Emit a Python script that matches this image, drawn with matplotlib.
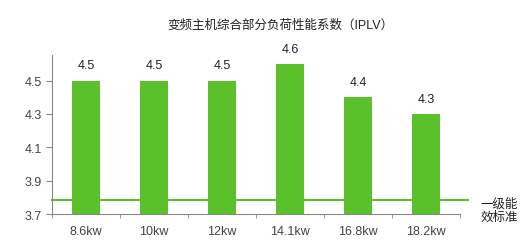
import matplotlib.pyplot as plt

plt.rcParams['font.family'] = ['Liberation Sans', 'Noto Sans CJK SC']

categories = ["8.6kw", "10kw", "12kw", "14.1kw", "16.8kw", "18.2kw"]
iplv = [4.5, 4.5, 4.5, 4.6, 4.4, 4.3]
standard = 3.785
yticks = [3.7, 3.9, 4.1, 4.3, 4.5]

green = "#5ac12a"
grey = "#444444"

fig = plt.figure(figsize=(5.2, 2.51), dpi=100)
ax = fig.add_axes([0.1, 0.1434, 0.7846, 0.6335])

x = range(len(categories))
ax.bar(x, iplv, width=0.4, color=green, zorder=2)
for i, v in zip(x, iplv):
    ax.text(i, v + 0.055, f"{v}", ha="center", va="bottom", fontsize=9, color="#222222")

ax.axhline(standard, xmin=0, xmax=1.02, color=green, lw=1.5, zorder=1, clip_on=False)
ax.text(1.05, standard - 0.06, "一级能\n效标准", transform=ax.get_yaxis_transform(),
        ha="left", va="center", fontsize=9, color="#222222", linespacing=1.05)

ax.set_ylim(3.7, 4.653)
ax.set_xlim(-0.5, len(categories) - 0.5)
ax.set_yticks(yticks)
ax.set_yticklabels([f"{t:.1f}" for t in yticks])
ax.set_xticks(x)
ax.set_xticklabels(categories)
ax.set_xticks([i + 0.5 for i in range(-1, len(categories))], minor=True)
ax.tick_params(axis="x", which="major", length=0, pad=8, labelsize=9, labelcolor=grey)
ax.tick_params(axis="x", which="minor", length=3, color="#888888")
ax.tick_params(axis="y", length=4, color="#888888", labelsize=9, labelcolor=grey)

for s in ["top", "right"]:
    ax.spines[s].set_visible(False)
for s in ["left", "bottom"]:
    ax.spines[s].set_color("#888888")

fig.text(0.54, 0.9, "变频主机综合部分负荷性能系数（IPLV）", ha="center", va="center",
         fontsize=9, color="#222222")

fig.savefig("out.png", dpi=100)
